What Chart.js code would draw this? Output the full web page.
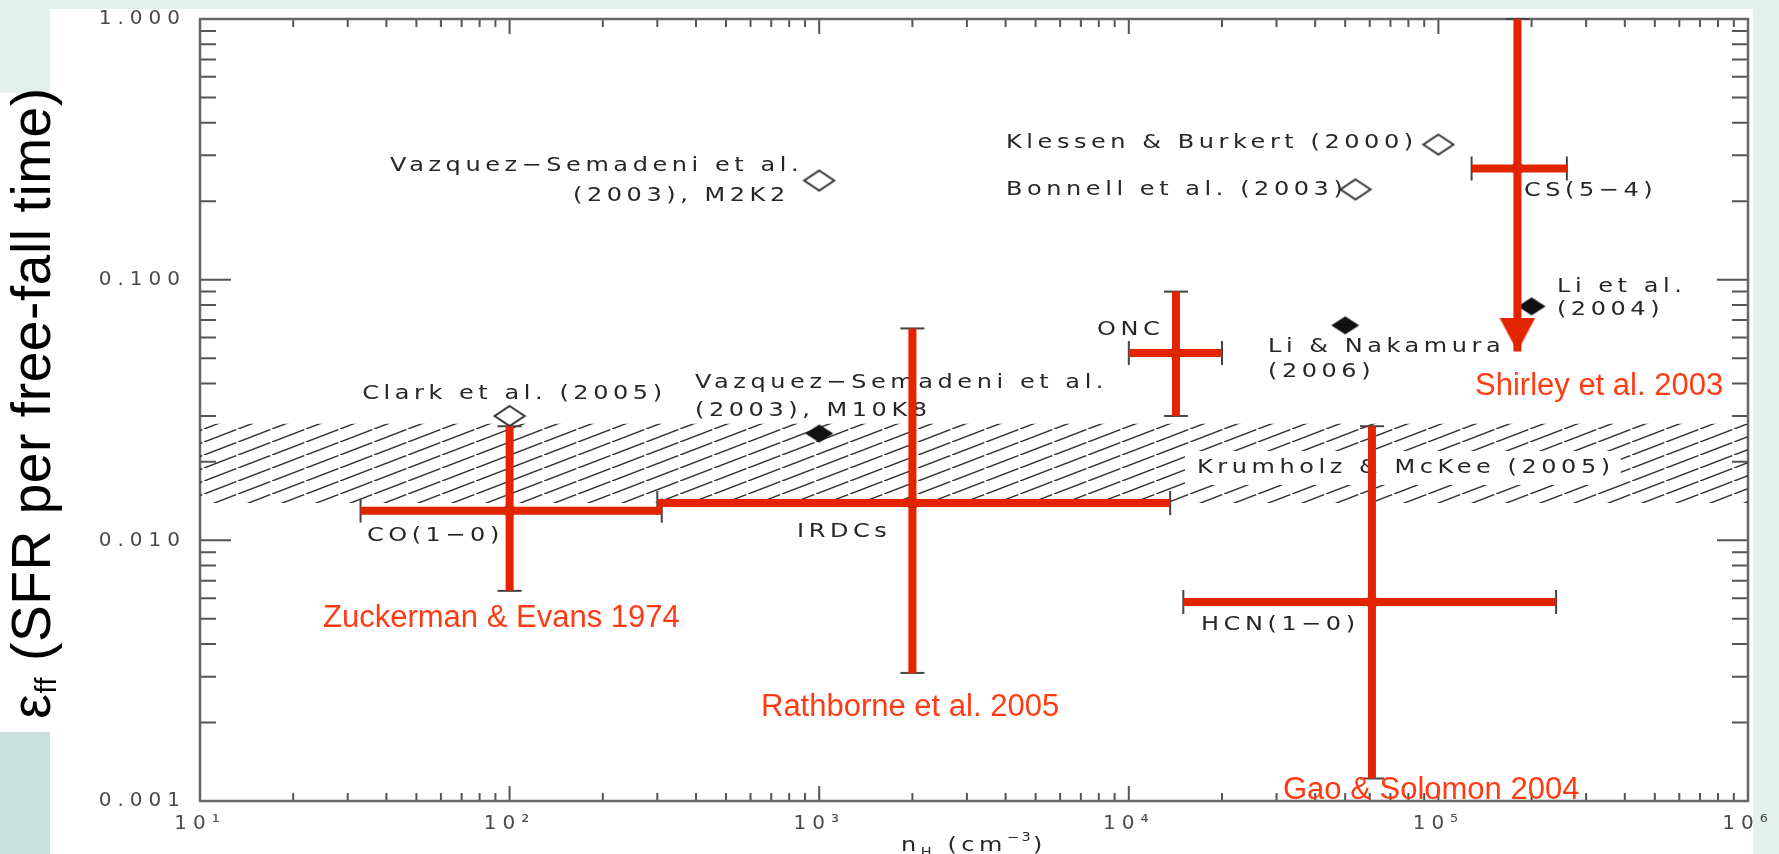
<!DOCTYPE html>
<html>
<head>
<meta charset="utf-8">
<script src="https://cdn.jsdelivr.net/npm/chart.js@4.4.1/dist/chart.umd.min.js"></script>
<style>
html, body { margin: 0; padding: 0; background: #fff; }
#wrap { position: relative; width: 1779px; height: 854px; overflow: hidden; background: #fff; }
.bg { position: absolute; }
#cv { position: absolute; left: 0; top: 0; }
</style>
</head>
<body>
<div id="wrap">
  <div class="bg" style="left:0;top:0;width:1779px;height:9px;background:#e3f1ed"></div>
  <div class="bg" style="left:0;top:0;width:50px;height:93px;background:#e3f1ed"></div>
  <div class="bg" style="left:0;top:732px;width:50px;height:122px;background:#c7e2dd"></div>
  <div class="bg" style="left:1753px;top:0;width:26px;height:854px;background:#e3f1ed"></div>
  <canvas id="cv" width="1779" height="854"></canvas>
</div>
<script>
// SFR per free-fall time vs density (log-log), observations in red, simulations as diamonds

// axes
const xTicks = [1e1, 1e2, 1e3, 1e4, 1e5, 1e6]
const xTickLabels = ['10¹', '10²', '10³', '10⁴', '10⁵', '10⁶']
const yTicks = [0.001, 0.01, 0.1, 1]
const yTickLabels = ['0.001', '0.010', '0.100', '1.000']

// observed ranges (red crosses): centre, x extent, y extent
const obsNames = ['CO(1-0)', 'IRDCs', 'ONC', 'CS(5-4)', 'HCN(1-0)']
const obsX   = [100, 2000, 14200, 180000, 61000]
const obsY   = [0.0130, 0.0139, 0.0523, 0.267, 0.0058]
const obsXLo = [33, 300, 10000, 128000, 15000]
const obsXHi = [310, 13600, 20000, 260000, 240000]
const obsYLo = [0.0064, 0.0031, 0.030, 0.053, 0.00122]
const obsYHi = [0.0274, 0.065, 0.090, 1.0, 0.0274]
const obsUpperLimit = [false, false, false, true, false]

// simulations (diamonds)
const simNames  = ['VS03 M2K2', 'Klessen & Burkert', 'Bonnell', 'Clark', 'VS03 M10K8', 'Li & Nakamura', 'Li et al.']
const simX      = [1000, 100000, 54000, 100, 1000, 50000, 200000]
const simY      = [0.24, 0.33, 0.222, 0.030, 0.0257, 0.0668, 0.079]
const simFilled = [false, false, false, false, true, true, true]

// Krumholz & McKee (2005) band
const bandX  = [10, 1e6]
const bandLo = [0.0139, 0.0139]
const bandHi = [0.028, 0.028]

// black labels (left edge, vertical centre, in data units)
const noteText = ['Vazquez−Semadeni et al.', '(2003), M2K2', 'Klessen & Burkert (2000)', 'Bonnell et al. (2003)',
    'CS(5−4)', 'Li et al.', '(2004)', 'Li & Nakamura', '(2006)', 'ONC', 'Clark et al. (2005)',
    'Vazquez−Semadeni et al.', '(2003), M10K8', 'Krumholz & McKee (2005)', 'CO(1−0)', 'IRDCs', 'HCN(1−0)']
const noteX = [41.1, 160.2, 4013, 4013, 189000, 241500, 241500, 28150, 28150, 7897, 33.4, 397, 397, 16610, 34.6, 848, 17110]
const noteY = [0.2737, 0.2104, 0.335, 0.2218, 0.220, 0.094, 0.0769, 0.0551, 0.0443, 0.064, 0.0365, 0.0402, 0.0315, 0.01895, 0.01045, 0.01082, 0.00475]
const boxedNote = 'Krumholz & McKee (2005)'

// red labels
const refText = ['Shirley et al. 2003', 'Zuckerman & Evans 1974', 'Rathborne et al. 2005', 'Gao & Solomon 2004']
const refX = [131300, 24.97, 648.6, 31480]
const refY = [0.0389, 0.00501, 0.002277, 0.001101]

const RED = '#e32400'
const RED_TEXT = '#ff3b14'
const INK = '#262626'
const NOTE_FONT = '20px "DejaVu Sans"'
const NOTE_STRETCH = 1.2

// --- marker images ---
function diamond(w, h, filled) {
    const c = document.createElement('canvas')
    c.width = w + 4; c.height = h + 4
    const g = c.getContext('2d')
    g.beginPath()
    g.moveTo(c.width / 2, 2); g.lineTo(c.width - 2, c.height / 2)
    g.lineTo(c.width / 2, c.height - 2); g.lineTo(2, c.height / 2)
    g.closePath()
    g.fillStyle = filled ? '#111' : '#fff'
    g.fill()
    if (!filled) { g.lineWidth = 2; g.strokeStyle = '#333'; g.stroke() }
    return c
}
function arrowHead() {
    // tip sits at the canvas centre so the point value is the tip
    const c = document.createElement('canvas')
    c.width = 36; c.height = 68
    const g = c.getContext('2d')
    g.beginPath(); g.moveTo(0, 0); g.lineTo(36, 0); g.lineTo(18, 34); g.closePath()
    g.fillStyle = RED; g.fill()
    return c
}
function hatch() {
    // one slanted dash per tile, small gap so rows read as "/ / /"
    const c = document.createElement('canvas')
    c.width = 34; c.height = 13
    const g = c.getContext('2d')
    g.strokeStyle = '#333'; g.lineWidth = 1.5
    const seg = (t0, t1) => {
        g.beginPath()
        g.moveTo(34 * t0, 13 - 13 * t0); g.lineTo(34 * t1, 13 - 13 * t1); g.stroke()
    }
    seg(-0.15, 0.95)
    seg(1.05, 1.95)
    return c
}
const openDia = diamond(30, 20, false)
const fullDia = diamond(28, 18, true)

// --- build datasets from arrays ---
const barPts = []
obsX.forEach((x, i) => {
    barPts.push({ x: obsXLo[i], y: obsY[i] }, { x: obsXHi[i], y: obsY[i] }, { x: obsXHi[i], y: null })
    barPts.push({ x: x, y: obsYHi[i] }, { x: x, y: obsYLo[i] }, { x: x, y: null })
})
const arrowPts = obsX.map((x, i) => ({ x, y: obsYLo[i] })).filter((p, i) => obsUpperLimit[i])
const centrePts = obsX.map((x, i) => ({ x, y: obsY[i] }))
const capPts = [], capRot = []
obsX.forEach((x, i) => {
    capPts.push({ x: obsXLo[i], y: obsY[i] }, { x: obsXHi[i], y: obsY[i] }); capRot.push(90, 90)
    capPts.push({ x, y: obsYHi[i] }); capRot.push(0)
    if (!obsUpperLimit[i]) { capPts.push({ x, y: obsYLo[i] }); capRot.push(0) }
})
const simOpen = simX.map((x, i) => ({ x, y: simY[i] })).filter((p, i) => !simFilled[i])
const simFull = simX.map((x, i) => ({ x, y: simY[i] })).filter((p, i) => simFilled[i])
const BAND_INDEX = 6

// --- drawing helpers ---
function drawFrame(chart) {
    const { ctx, chartArea: a, scales: { x, y } } = chart
    ctx.save()
    ctx.strokeStyle = '#555'
    ctx.lineWidth = 2
    ctx.beginPath()
    for (let e = 1; e < 6; e++) for (let k = 1; k < 10; k++) {
        const px = x.getPixelForValue(k * 10 ** e)
        const len = k === 1 ? 15 : 8
        ctx.moveTo(px, a.bottom); ctx.lineTo(px, a.bottom - len)
        ctx.moveTo(px, a.top); ctx.lineTo(px, a.top + len)
    }
    for (let e = -3; e < 0; e++) for (let k = 1; k < 10; k++) {
        const py = y.getPixelForValue(k * 10 ** e)
        const len = k === 1 ? 31 : 16
        ctx.moveTo(a.left, py); ctx.lineTo(a.left + len, py)
        ctx.moveTo(a.right, py); ctx.lineTo(a.right - len, py)
    }
    ctx.stroke()
    ctx.strokeStyle = '#666'
    ctx.lineWidth = 2.5
    ctx.strokeRect(a.left, a.top, a.right - a.left, a.bottom - a.top)
    ctx.restore()
}

// wide, spaced plot lettering like the IDL vector font
function wideText(ctx, t, px, py) {
    ctx.save()
    ctx.translate(px, py)
    ctx.scale(NOTE_STRETCH, 1)
    ctx.fillText(t, 0, 0)
    ctx.restore()
}

function drawNotes(chart) {
    const { ctx, scales: { x, y } } = chart
    ctx.save()
    ctx.font = NOTE_FONT
    ctx.letterSpacing = '3.8px'
    ctx.textBaseline = 'middle'
    ctx.textAlign = 'left'
    noteText.forEach((t, i) => {
        const px = x.getPixelForValue(noteX[i]), py = y.getPixelForValue(noteY[i])
        if (t === boxedNote) {
            const w = ctx.measureText(t).width * NOTE_STRETCH
            ctx.fillStyle = '#fff'
            ctx.fillRect(px - 12, py - 17, w + 18, 34)
        }
        ctx.fillStyle = INK
        wideText(ctx, t, px, py)
    })
    ctx.restore()
}

function drawPieces(ctx, pieces, cx, cy, stretch) {
    // pieces: [text, font, dy, spacing]
    let total = 0
    const widths = pieces.map(p => { ctx.font = p[1]; ctx.letterSpacing = p[3]; const w = ctx.measureText(p[0]).width * stretch; total += w; return w })
    let xx = cx - total / 2
    pieces.forEach((p, i) => {
        ctx.font = p[1]; ctx.letterSpacing = p[3]
        ctx.save()
        ctx.translate(xx, cy + p[2])
        ctx.scale(stretch, 1)
        ctx.fillText(p[0], 0, 0)
        ctx.restore()
        xx += widths[i]
    })
}

function drawTitles(chart) {
    const { ctx, chartArea: a, scales: { x, y } } = chart
    ctx.save()
    // red reference labels
    ctx.font = '31px "Liberation Sans"'
    ctx.letterSpacing = '0px'
    ctx.fillStyle = RED_TEXT
    ctx.textBaseline = 'middle'
    ctx.textAlign = 'left'
    refText.forEach((t, i) => ctx.fillText(t, x.getPixelForValue(refX[i]), y.getPixelForValue(refY[i])))

    // x axis title
    ctx.fillStyle = INK
    ctx.textBaseline = 'alphabetic'
    drawPieces(ctx, [
        ['n', '20px "DejaVu Sans"', 0, '3.8px'],
        ['H', '12px "DejaVu Sans"', 5, '3px'],
        [' (cm', '20px "DejaVu Sans"', 0, '3.8px'],
        ['−3', '12px "DejaVu Sans"', -10, '2px'],
        [')', '20px "DejaVu Sans"', 0, '3.8px']
    ], (a.left + a.right) / 2, 851, NOTE_STRETCH)

    // y axis title, rotated
    ctx.translate(50, 403)
    ctx.rotate(-Math.PI / 2)
    ctx.fillStyle = '#000'
    drawPieces(ctx, [
        ['ε', '55px "Liberation Sans"', 0, '0.6px'],
        ['ff', '29px "Liberation Sans"', 6, '0.6px'],
        [' (SFR per free-fall time)', '55px "Liberation Sans"', 0, '0.6px']
    ], 0, 0, 1)
    ctx.restore()
}

const annot = {
    id: 'annot',
    beforeDraw(chart) { chart.ctx.letterSpacing = '6px' },
    beforeDatasetsDraw(chart) { chart.ctx.letterSpacing = '0px'; drawFrame(chart) },
    afterDatasetDraw(chart, args) { if (args.index === BAND_INDEX) drawNotes(chart) },
    afterDraw(chart) { drawTitles(chart); chart.ctx.letterSpacing = '0px' }
}

const tickFont = { family: 'DejaVu Sans', size: 20 }

new Chart(document.getElementById('cv').getContext('2d'), {
    type: 'line',
    data: {
        datasets: [
            { label: 'observations', data: barPts, borderColor: RED, borderWidth: 8, borderCapStyle: 'butt',
              pointRadius: 0, spanGaps: false, tension: 0, clip: false },
            { label: 'upper limit', data: arrowPts, showLine: false, pointStyle: arrowHead(), pointRadius: 18, clip: false },
            { label: 'centres', data: centrePts, showLine: false, pointStyle: 'rect', pointRadius: 6,
              pointBackgroundColor: '#222', pointBorderColor: '#222', clip: false },
            { label: 'caps', data: capPts, showLine: false, pointStyle: 'line', pointRadius: 12,
              pointRotation: capRot, pointBorderColor: '#444', pointBorderWidth: 2, clip: false },
            { label: 'simulations (open)', data: simOpen, showLine: false, pointStyle: openDia, pointRadius: 15, clip: false },
            { label: 'simulations (filled)', data: simFull, showLine: false, pointStyle: fullDia, pointRadius: 15, clip: false },
            { label: 'Krumholz & McKee', data: bandX.map((x, i) => ({ x, y: bandHi[i] })), borderColor: 'transparent',
              borderWidth: 0, pointRadius: 0, fill: '+1', backgroundColor: null },
            { label: 'band low', data: bandX.map((x, i) => ({ x, y: bandLo[i] })), borderColor: 'transparent',
              borderWidth: 0, pointRadius: 0, fill: false }
        ]
    },
    options: {
        responsive: false,
        animation: false,
        devicePixelRatio: 1,
        events: [],
        layout: { padding: { left: 0, right: 31, top: 12, bottom: 0 } },
        plugins: { legend: { display: false }, tooltip: { enabled: false } },
        scales: {
            x: {
                type: 'logarithmic', min: 10, max: 1e6, position: 'bottom',
                afterBuildTicks: ax => { ax.ticks = xTicks.map(v => ({ value: v })) },
                afterFit: ax => { ax.height = 53 },
                grid: { display: false }, border: { display: false },
                ticks: { autoSkip: false, maxRotation: 0, padding: 3, color: '#4a4a4a', font: tickFont,
                         callback: (v, i) => xTickLabels[i] }
            },
            y: {
                type: 'logarithmic', min: 0.001, max: 1, position: 'left',
                afterBuildTicks: ax => { ax.ticks = yTicks.map(v => ({ value: v })) },
                afterFit: ax => { ax.width = 200 },
                grid: { display: false }, border: { display: false },
                ticks: { autoSkip: false, padding: 6, color: '#4a4a4a', font: tickFont,
                         callback: (v, i) => yTickLabels[i] }
            }
        }
    },
    plugins: [annot]
})

// hatch pattern for the theory band
const ch = Chart.getChart('cv')
ch.data.datasets[BAND_INDEX].backgroundColor = ch.ctx.createPattern(hatch(), 'repeat')
ch.update('none')
</script>
</body>
</html>
